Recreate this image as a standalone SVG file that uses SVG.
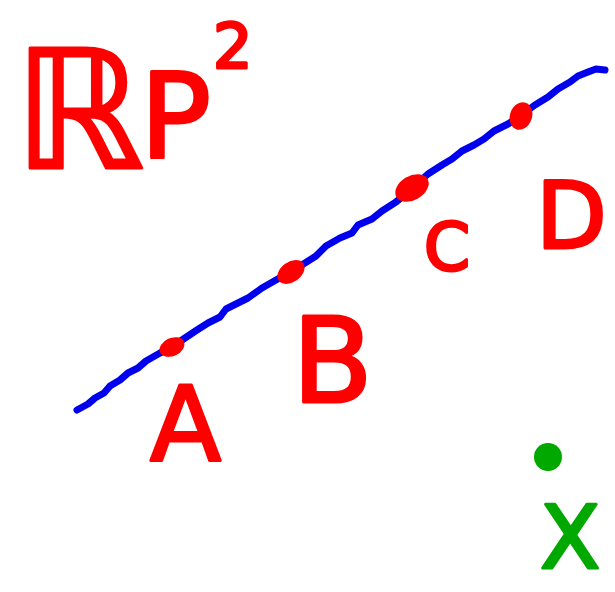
<svg xmlns="http://www.w3.org/2000/svg" width="615" height="592" viewBox="0 0 615 592">
<style>
.lbl{fill:#ff0000;stroke:#ff0000;stroke-width:3;stroke-linejoin:round;font-family:"DejaVu Sans","Liberation Sans",sans-serif}
.pt{fill:#ff0000}
.gx{fill:#00a800;stroke:#00a800;stroke-width:3;stroke-linejoin:round;font-family:"DejaVu Sans","Liberation Sans",sans-serif}
</style>
<rect width="615" height="592" fill="#ffffff"/>
<g id="connectors">
<path d="M77,410 L88,404 L95,398 L104,393 L110,386 L120,380 L128,373 L138,368 L146,361 L160,353 L172,347 L185,338 L197,330 L208,323 L220,317 L226,309 L238,303 L248,298 L262,288 L276,280 L292,271 L305,263 L316,256 L326,246 L340,238 L352,233 L358,225 L372,219 L382,211 L396,202 L410,190 L428,174 L442,165 L452,159 L462,151 L474,145 L484,139 L494,131 L508,124 L520,116 L535,105 L548,97 L558,89 L570,82 L578,76 L588,72 L596,69 L605,70" fill="none" stroke="#0000ee" stroke-width="7" stroke-linecap="round" stroke-linejoin="round"/>
</g>
<g id="title"><text class="lbl" font-size="165" x="14" y="168">ℝ</text><text class="lbl" font-size="118" x="140" y="158">P</text><text class="lbl" font-size="62" x="213" y="68">2</text></g>
<g id="pointA"><ellipse class="pt" cx="172" cy="347" rx="13" ry="9" transform="rotate(-25 172 347)"/><text class="lbl" font-size="104" x="150" y="460">A</text></g>
<g id="pointB"><ellipse class="pt" cx="291" cy="272" rx="15" ry="10" transform="rotate(-35 291 272)"/><text class="lbl" font-size="118" x="292" y="402">B</text></g>
<g id="pointC"><ellipse class="pt" cx="412" cy="188" rx="18" ry="12" transform="rotate(-30 412 188)"/><text class="lbl" font-size="66" x="424" y="270">C</text></g>
<g id="pointD"><ellipse class="pt" cx="521" cy="116" rx="11" ry="14" transform="rotate(20 521 116)"/><text class="lbl" font-size="92" x="536" y="248">D</text></g>
<g id="pointX"><circle cx="548" cy="457" r="14" fill="#00a800"/><text class="gx" font-size="88" x="540" y="568">X</text></g>
</svg>
